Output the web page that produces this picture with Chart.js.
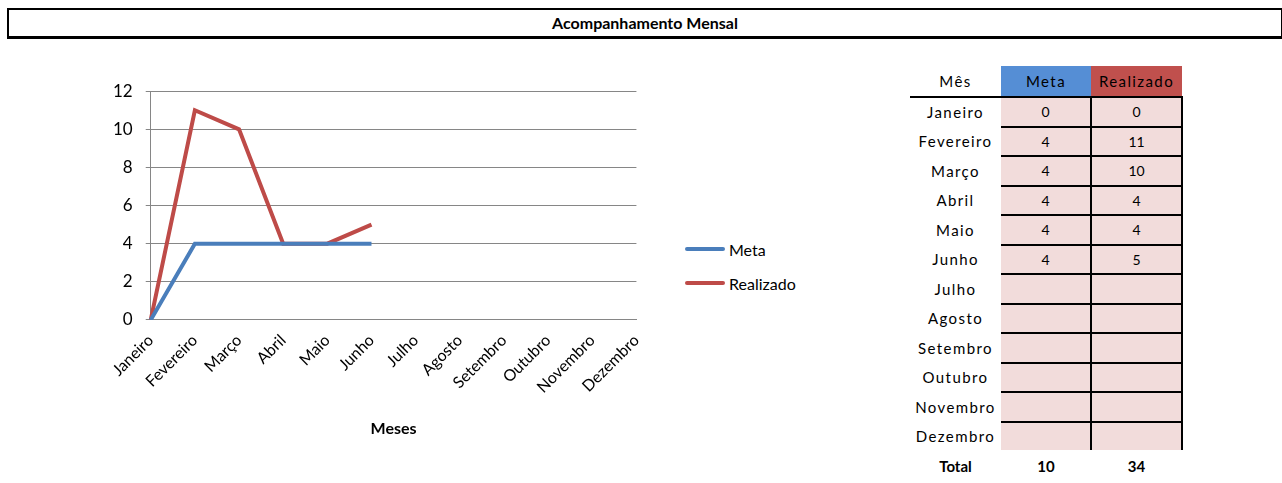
<!DOCTYPE html>
<html>
<head>
<meta charset="utf-8">
<script src="https://cdn.jsdelivr.net/npm/chart.js@4"></script>
<style>
  body { margin: 0; background: #fff; width: 1282px; height: 483px; overflow: hidden; position: relative; font-family: Lato, sans-serif; }
  #titulo { position: absolute; left: 7px; top: 8px; width: 1272px; height: 26px; border: 2px solid #000; border-bottom-width: 3px;
            text-align: center; font: bold 16px Lato, sans-serif; line-height: 26px; }
  #grafico { position: absolute; left: 100px; top: 68px; width: 553px; height: 374px; }
  #legenda { position: absolute; left: 685px; top: 232px; font: 16px Lato, sans-serif; }
  #legenda div { height: 34px; display: flex; align-items: center; }
  #legenda span.linha { display: inline-block; width: 40px; height: 4px; border-radius: 2px; margin-right: 4px; }
  #tabela { position: absolute; left: 910px; top: 66px; border-collapse: collapse; font-family: Lato, sans-serif; }
  #tabela td { padding: 0; text-align: center; height: 27.5px; }
  #tabela td.mes { width: 91px; font-size: 15px; letter-spacing: 1.4px; }
  #tabela td.val { width: 89px; font-size: 14px; background: #f2dcdb; border-bottom: 2px solid #000; border-right: 2px solid #000; }
  #tabela tr.cab td { height: 30px; font-size: 15px; letter-spacing: 1.4px; border-bottom: 2px solid #000; }
  #tabela tr.ultima td.val { border-bottom: none; }
  #tabela tr.total td { font-weight: bold; font-size: 15px; height: 32px; }
</style>
</head>
<body>
<div id="titulo">Acompanhamento Mensal</div>
<div id="grafico"><canvas id="acompanhamento"></canvas></div>
<div id="legenda"></div>
<table id="tabela"></table>

<script>
// dados do acompanhamento mensal
const meses = ['Janeiro', 'Fevereiro', 'Março', 'Abril', 'Maio', 'Junho', 'Julho', 'Agosto', 'Setembro', 'Outubro', 'Novembro', 'Dezembro'];
const meta = [0, 4, 4, 4, 4, 4, null, null, null, null, null, null];
const realizado = [0, 11, 10, 4, 4, 5, null, null, null, null, null, null];
const totais = ['Total', 10, 34];
const yTicks = [0, 2, 4, 6, 8, 10, 12];

const corMeta = '#4a7ebb';
const corRealizado = '#be4b48';

const data = {
  labels: meses,
  datasets: [{
    label: 'Meta',
    data: meta,
    borderColor: corMeta,
    backgroundColor: corMeta,
    borderWidth: 4,
    pointRadius: 0,
    fill: false
  }, {
    label: 'Realizado',
    data: realizado,
    borderColor: corRealizado,
    backgroundColor: corRealizado,
    borderWidth: 4,
    pointRadius: 0,
    fill: false
  }]
};

const config = {
  type: 'line',
  data: data,
  options: {
    responsive: true,
    maintainAspectRatio: false,
    animation: false,
    layout: { padding: { top: 4, right: 6 } },
    plugins: {
      legend: { display: false },
      tooltip: { enabled: false }
    },
    scales: {
      x: {
        grid: { display: false },
        border: { color: '#868686' },
        ticks: {
          autoSkip: false, minRotation: 45, maxRotation: 45,
          color: '#000', font: { family: 'Lato', size: 16 }
        },
        title: {
          display: true, text: 'Meses', color: '#000',
          font: { family: 'Lato', size: 16, weight: 'bold' }, padding: { top: 19 }
        }
      },
      y: {
        min: yTicks[0],
        max: yTicks[yTicks.length - 1],
        afterBuildTicks: (axis) => { axis.ticks = yTicks.map(v => ({ value: v })); },
        grid: { color: '#868686', tickLength: 5 },
        border: { color: '#868686' },
        ticks: { color: '#000', padding: 13, font: { family: 'Lato', size: 17 } }
      }
    }
  }
};

const myChart = new Chart(document.getElementById('acompanhamento'), config);

// legenda ao lado do grafico
const legenda = document.getElementById('legenda');
data.datasets.forEach(ds => {
  const item = document.createElement('div');
  item.innerHTML = '<span class="linha" style="background:' + ds.borderColor + '"></span>' + ds.label;
  legenda.appendChild(item);
});

// tabela com os valores por mes
const tabela = document.getElementById('tabela');
let html = '<tr class="cab"><td class="mes">Mês</td>' +
  '<td style="background:#558ed5;width:89px">Meta</td>' +
  '<td style="background:#c0504d;width:89px">Realizado</td></tr>';
meses.forEach((m, i) => {
  const ultima = i === meses.length - 1 ? ' class="ultima"' : '';
  html += '<tr' + ultima + '><td class="mes">' + m + '</td>' +
    '<td class="val">' + (meta[i] ?? '') + '</td>' +
    '<td class="val">' + (realizado[i] ?? '') + '</td></tr>';
});
html += '<tr class="total"><td>' + totais[0] + '</td><td>' + totais[1] + '</td><td>' + totais[2] + '</td></tr>';
tabela.innerHTML = html;
</script>
</body>
</html>
